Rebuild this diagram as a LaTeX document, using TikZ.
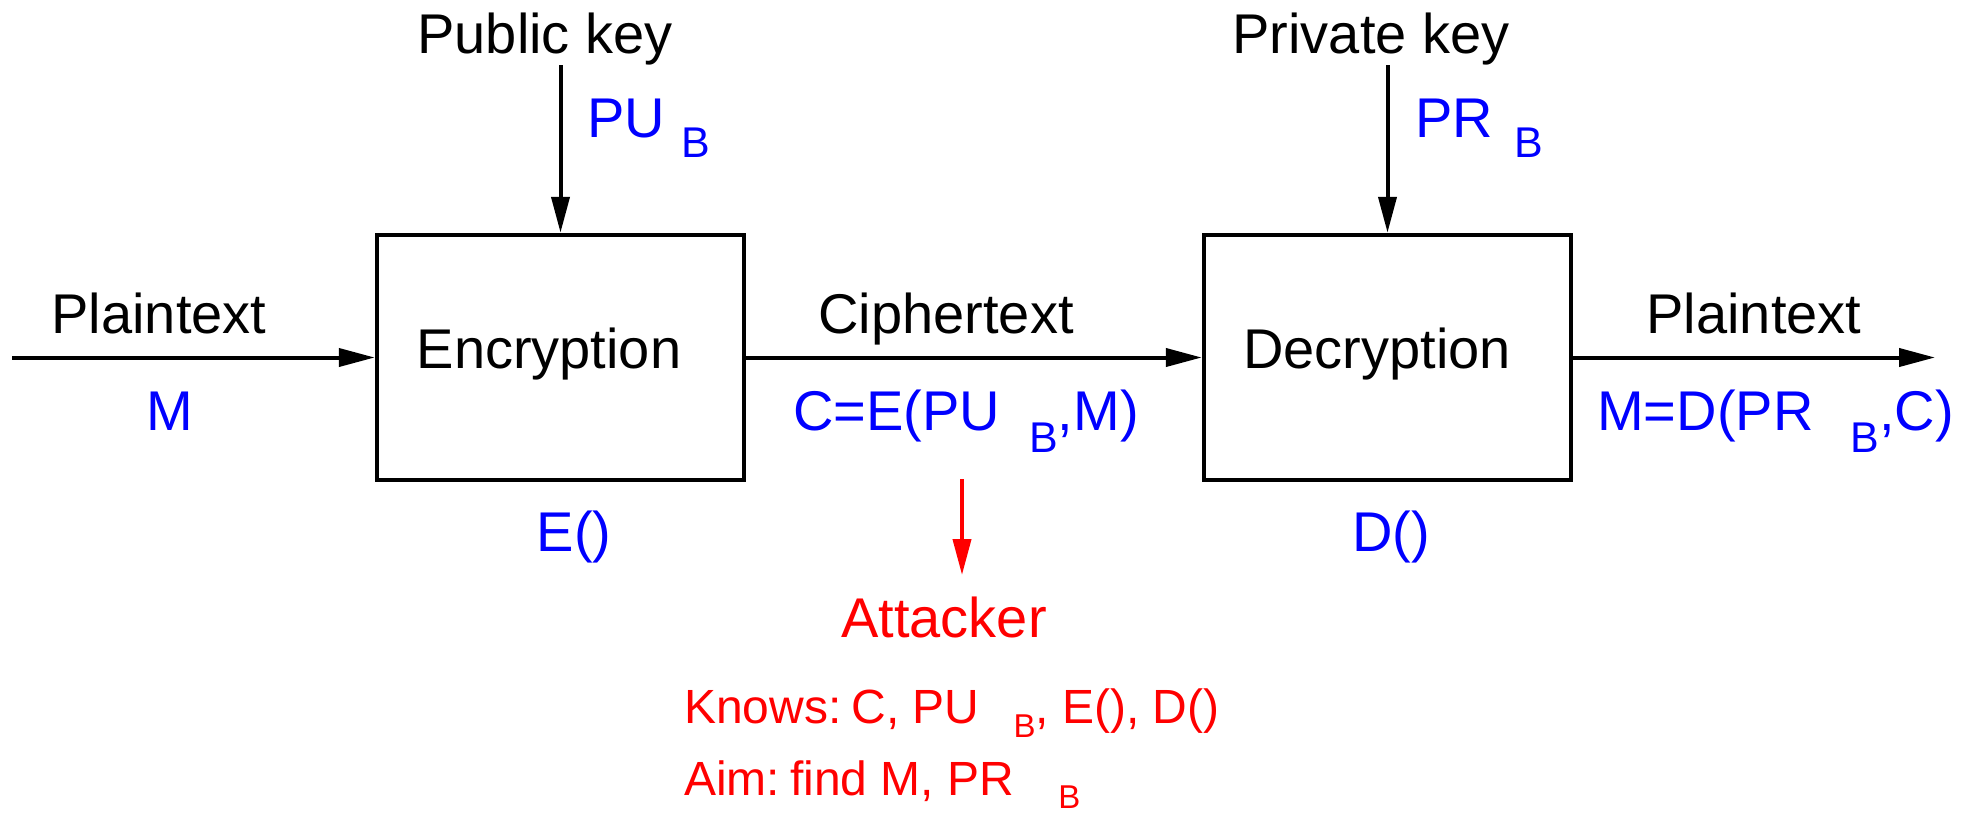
\documentclass[tikz,border=0pt]{standalone}
\usepackage{fontspec}
\setmainfont{Liberation Sans}
\usetikzlibrary{arrows.meta}
\definecolor{lblue}{RGB}{0,0,255}
\definecolor{lred}{RGB}{255,0,0}
\newcommand{\bigf}{\fontsize{56}{60}\selectfont}
\newcommand{\smallf}{\fontsize{48}{52}\selectfont}
\newcommand{\subB}[3]{\hspace*{#1}\raisebox{-#3}{\fontsize{#2}{#2}\selectfont B}}
\tikzset{
  lbl/.style={inner sep=0pt, font=\bigf, anchor=base},
  lblw/.style={inner sep=0pt, font=\bigf, anchor=base west},
  box/.style={draw, line width=4.5pt, minimum width=367pt, minimum height=245pt, inner sep=0pt},
  arr/.style={line width=4pt, -{Triangle[length=36pt,width=18pt]}},
}
\begin{document}
\begin{tikzpicture}[x=1pt,y=-1pt]
\useasboundingbox (0,0) rectangle (1971,812);
% boxes
\node[box] (enc) at (560.5,357.5) {};
\node[box] (dec) at (1387.5,357.5) {};
% box texts
\node[lbl] (enctext) at (549,368) {Encryption};
\node[lbl] (dectext) at (1377,368) {Decryption};
\node[lbl, text=lblue] (efun) at (574,551) {E()};
\node[lbl, text=lblue] (dfun) at (1391,551) {D()};
% keys
\node[lbl] (pubkey) at (545,53) {Public key};
\node[lblw, text=lblue] (pub) at (587,137) {PU\subB{17pt}{43}{20pt}};
\node[lbl] (privkey) at (1371,53) {Private key};
\node[lblw, text=lblue] (priv) at (1415,137) {PR\subB{21pt}{43}{20pt}};
\coordinate (pubtop) at (560.5,65);
\coordinate (privtop) at (1387.5,65);
% flow labels
\node[lbl] (pin) at (159,333) {Plaintext};
\node[lbl, text=lblue] (m) at (170,430) {M};
\node[lbl] (ctext) at (946,333) {Ciphertext};
\node[lblw, text=lblue] (cform) at (793,430) {C=E(PU\subB{29pt}{43}{22pt},M)};
\node[lbl] (pout) at (1754,333) {Plaintext};
\node[lblw, text=lblue] (mform) at (1597,430) {M=D(PR\subB{37pt}{43}{22pt},C)};
\coordinate (inl) at (12,357.5);
\coordinate (outr) at (1935,357.5);
% attacker
\node[lbl, text=lred] (atk) at (944,637) {Attacker};
\node[inner sep=0pt, font=\smallf, anchor=base west, text=lred] (knows) at (684,723)
  {Knows:\hspace{10pt}C, PU\subB{34pt}{33}{14pt}, E(), D()};
\node[inner sep=0pt, font=\smallf, anchor=base west, text=lred] (aim) at (684,795)
  {Aim:\hspace{10pt}find M, PR\subB{44pt}{33}{13pt}};
\coordinate (atktop) at (962,479);
\coordinate (atkbot) at (962,575);
% connectors
\draw[arr] (inl) -- (enc.west);
\draw[arr] (pubtop) -- (enc.north);
\draw[arr] (enc.east) -- (dec.west);
\draw[arr] (privtop) -- (dec.north);
\draw[arr] (dec.east) -- (outr);
\draw[arr, draw=lred, fill=lred] (atktop) -- (atkbot);
\end{tikzpicture}
\end{document}
